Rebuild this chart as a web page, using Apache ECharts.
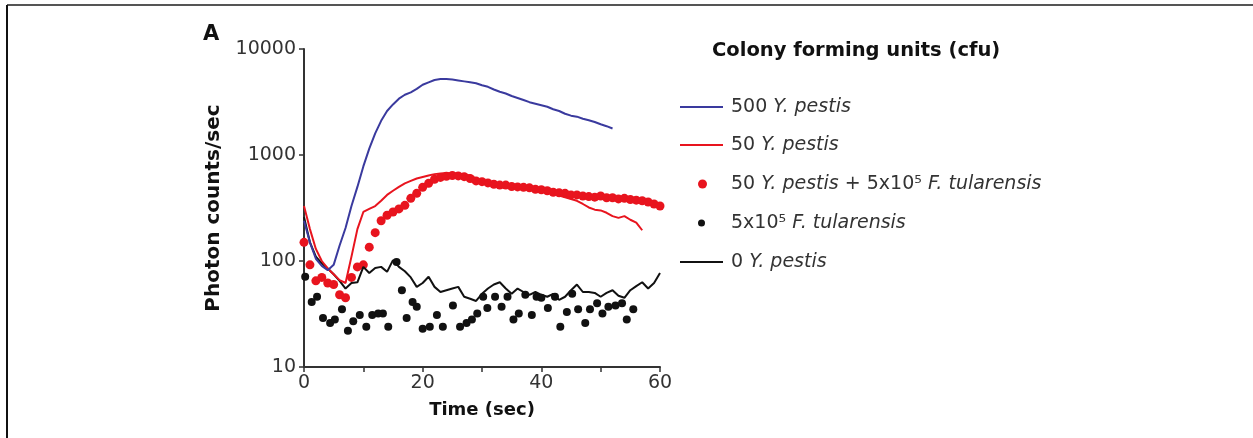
<!DOCTYPE html>
<html><head><meta charset="utf-8">
<script src="https://cdn.jsdelivr.net/npm/echarts@6/dist/echarts.min.js"></script>
<style>html,body{margin:0;padding:0;background:#fff}#c{width:1253px;height:438px}</style>
</head><body><div id="c"></div>
<script>
// ---- data ----
const xTickLabels = {0:'0', 20:'20', 40:'40', 60:'60'};
const yTickLabels = ['10','100','1000','10000'];
const lineTime = [0,1,2,3,4,5,6,7,8,9,10,11,12,13,14,15,16,17,18,19,20,21,22,23,24,25,26,27,28,29,30,
  31,32,33,34,35,36,37,38,39,40,41,42,43,44,45,46,47,48,49,50,51,52,53,54,55,56,57,58,59,60];
const blueVals = [240,150,105,90,82,92,140,205,330,500,780,1150,1600,2100,2600,3000,3400,3700,3900,4200,
  4600,4850,5100,5200,5200,5150,5050,4950,4850,4750,4550,4400,4150,3950,3800,3600,3450,3300,3150,3050,
  2950,2850,2700,2600,2450,2350,2300,2200,2130,2050,1950,1870,1780];
const redLineVals = [330,200,130,100,85,75,66,62,110,200,290,310,330,370,420,460,500,540,570,600,
  620,640,660,670,675,670,665,655,640,600,560,545,530,525,515,505,500,495,485,470,
  460,450,430,415,400,385,370,345,320,305,300,285,265,255,265,245,230,195];
const redDotVals = [150,92,65,70,62,60,48,45,70,88,92,135,185,240,270,290,310,335,390,435,
  495,540,590,615,630,640,635,625,600,570,560,545,530,520,520,505,500,495,490,475,
  470,460,445,440,435,420,420,410,405,400,410,395,395,385,390,380,375,370,360,345,330];
const blackLineVals = [260,150,110,95,85,75,65,55,62,63,88,77,86,88,79,102,88,80,70,57,
  62,71,57,51,53,55,57,46,44,42,49,55,60,63,55,49,55,51,48,51,
  48,46,49,43,46,53,60,51,51,50,46,50,53,47,45,53,58,63,55,62,77];
const blackDotTime = [0.2,1.3,2.2,3.2,4.4,5.2,6.4,7.4,8.3,9.4,10.5,11.5,12.5,13.3,14.2,15.6,16.5,17.3,18.3,19.0,
  20.0,21.2,22.4,23.4,25.1,26.3,27.4,28.3,29.2,30.2,30.9,32.2,33.3,34.3,35.3,36.2,37.3,38.4,39.2,40.0,
  41.1,42.3,43.2,44.3,45.2,46.2,47.4,48.2,49.4,50.3,51.3,52.5,53.6,54.4,55.5];
const blackDotVals = [71,41,46,29,26,28,35,22,27,31,24,31,32,32,24,98,53,29,41,37,
  23,24,31,24,38,24,26,28,32,46,36,46,37,46,28,32,48,31,46,45,
  36,46,24,33,49,35,26,35,40,32,37,38,40,28,35];

const seriesNames = ['500 Y. pestis','50 Y. pestis','50 Y. pestis + 5x10⁵ F. tularensis','5x10⁵ F. tularensis','0 Y. pestis'];
const legendLabels = ['500 {i|Y. pestis}','50 {i|Y. pestis}','50 {i|Y. pestis} + 5x10⁵ {i|F. tularensis}','5x10⁵ {i|F. tularensis}','0 {i|Y. pestis}'];
const legendTitle = 'Colony forming units (cfu)';

// ---- chart ----
const pairs = (t, v) => v.map((y, i) => [t[i], y]);
const FONT = 'DejaVu Sans';
const txt = {fontFamily: FONT, fontSize: 19, color: '#333', lineHeight: 22};
const rowTops = [107,145,184,223,262];
const isLine = [true, true, false, false, true];
const dotSize = [0, 0, 9, 7, 0];
const textPad = [3, 3, 19, 21, 3];
const legends = seriesNames.map((n, i) => ({
  data: [n], left: isLine[i] ? 680 : 698, top: rowTops[i] - 11, orient: 'vertical', padding: 0,
  itemWidth: isLine[i] ? 43 : dotSize[i], itemHeight: isLine[i] ? 2 : dotSize[i],
  icon: isLine[i] ? 'rect' : 'circle', selectedMode: false,
  formatter: () => legendLabels[i],
  textStyle: Object.assign({}, txt, {padding: [0,0,0, textPad[i]], rich: {i: Object.assign({}, txt, {fontStyle: 'italic'})}})
}));

const chart = echarts.init(document.getElementById('c'));
chart.setOption({
  animation: false,
  backgroundColor: '#fff',
  grid: {left: 304, top: 49, width: 356, height: 318, containLabel: false},
  legend: legends,
  xAxis: {
    type: 'value', min: 0, max: 60, interval: 10,
    name: 'Time (sec)', nameLocation: 'middle', nameGap: 34,
    nameTextStyle: {fontFamily: FONT, fontWeight: 'bold', fontSize: 18, color: '#111'},
    axisLine: {lineStyle: {color: '#333', width: 2}},
    axisTick: {show: true, length: 5, lineStyle: {color: '#333', width: 1.5}},
    axisLabel: {fontFamily: FONT, fontSize: 19, color: '#333', margin: 7,
      formatter: v => (xTickLabels[v] !== undefined ? xTickLabels[v] : '')},
    splitLine: {show: false}
  },
  yAxis: {
    type: 'log', logBase: 10, min: 10, max: 10000,
    name: 'Photon counts/sec', nameLocation: 'middle', nameGap: 80,
    nameTextStyle: {fontFamily: FONT, fontWeight: 'bold', fontSize: 20, color: '#111'},
    axisLine: {lineStyle: {color: '#333', width: 2}},
    axisTick: {show: true, length: 5, lineStyle: {color: '#333', width: 1.5}},
    axisLabel: {fontFamily: FONT, fontSize: 19, color: '#333', margin: 8,
      formatter: v => { const s = String(Math.round(v)); return yTickLabels.indexOf(s) >= 0 ? s : ''; }},
    splitLine: {show: false}
  },
  series: [
    {name: seriesNames[2], type: 'scatter', data: pairs(lineTime, redDotVals), symbolSize: 9,
      itemStyle: {color: '#e8141e', opacity: 1}, z: 2},
    {name: seriesNames[3], type: 'scatter', data: pairs(blackDotTime, blackDotVals), symbolSize: 8,
      itemStyle: {color: '#111', opacity: 1}, z: 2},
    {name: seriesNames[4], type: 'line', data: pairs(lineTime, blackLineVals), symbol: 'none',
      lineStyle: {color: '#111', width: 2}, itemStyle: {color: '#111'}, z: 3},
    {name: seriesNames[1], type: 'line', data: pairs(lineTime, redLineVals), symbol: 'none',
      lineStyle: {color: '#e8141e', width: 2}, itemStyle: {color: '#e8141e'}, z: 4},
    {name: seriesNames[0], type: 'line', data: pairs(lineTime, blueVals), symbol: 'none',
      lineStyle: {color: '#3a3a9e', width: 2}, itemStyle: {color: '#3a3a9e'}, z: 5}
  ],
  graphic: [
    {type: 'line', shape: {x1: 7, y1: 5, x2: 1253, y2: 5}, style: {stroke: '#555', lineWidth: 2}},
    {type: 'line', shape: {x1: 7, y1: 5, x2: 7, y2: 438}, style: {stroke: '#111', lineWidth: 2}},
    {type: 'text', left: 203, top: 24, style: {text: 'A', fontFamily: FONT, fontWeight: 'bold', fontSize: 21, fill: '#111'}},
    {type: 'text', left: 712, top: 41, style: {text: legendTitle, fontFamily: FONT, fontWeight: 'bold', fontSize: 19.5, fill: '#111'}}
  ]
});
</script></body></html>
